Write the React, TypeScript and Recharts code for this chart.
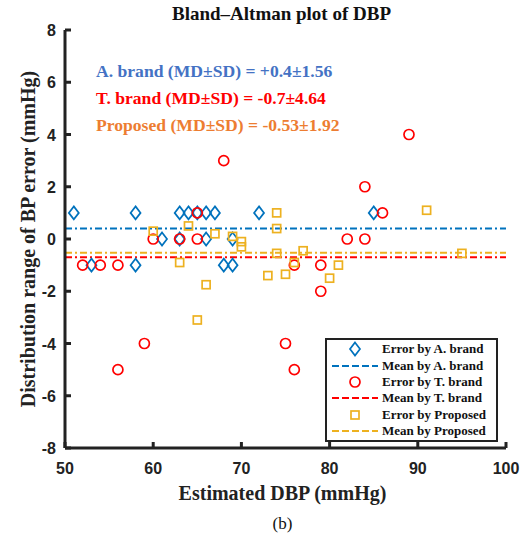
import React from 'react';
import { ScatterChart, Scatter, XAxis, YAxis, ReferenceLine } from 'recharts';

// tick values
const xTicks = [50, 60, 70, 80, 90, 100];
const yTicks = [-8, -6, -4, -2, 0, 2, 4, 6, 8];

// [estimated DBP, error] pairs
const aBrandErrors = [
  [51, 1], [58, 1], [63, 1], [64, 1], [65, 1], [66, 1], [67, 1], [72, 1], [85, 1],
  [61, 0], [63, 0], [66, 0], [69, 0],
  [53, -1], [58, -1], [68, -1], [69, -1],
];
const tBrandErrors = [
  [52, -1], [54, -1], [56, -1], [56, -5], [59, -4], [60, 0], [63, 0], [65, 1], [65, 0],
  [68, 3], [75, -4], [76, -1], [76, -5], [79, -1], [79, -2], [82, 0], [84, 0], [84, 2],
  [86, 1], [89, 4],
];
const proposedErrors = [
  [60, 0.3], [63, -0.9], [64, 0.5], [65, -3.1], [66, -1.75], [67, 0.2], [69, 0.1],
  [70, -0.1], [70, -0.3], [73, -1.4], [74, 1.0], [74, 0.4], [74, -0.55], [75, -1.35],
  [76, -0.9], [77, -0.45], [80, -1.5], [81, -1.0], [91, 1.1], [95, -0.55],
];

const meanValues = [0.4, -0.7, -0.53];
const seriesNames = ['A. brand', 'T. brand', 'Proposed'];
const statLabels = ['+0.4±1.56', '-0.7±4.64', '-0.53±1.92'];

const markerColors = ['#0072BD', '#FF0000', '#EDB120'];
const statColors = ['#4472C4', '#FF0000', '#ED7D31'];
const DASH = '7 3 2 3';
const FRAME = '#222';

const toPoints = (arr: number[][]) => arr.map(([x, y]) => ({ x, y }));

const Diamond = ({ cx, cy }: any) => (
  <path
    d={`M${cx},${cy - 6.5} L${cx + 5},${cy} L${cx},${cy + 6.5} L${cx - 5},${cy} Z`}
    fill="none"
    stroke={markerColors[0]}
    strokeWidth={1.7}
  />
);
const Circle = ({ cx, cy }: any) => (
  <circle cx={cx} cy={cy} r={5} fill="none" stroke={markerColors[1]} strokeWidth={1.7} />
);
const Square = ({ cx, cy }: any) => (
  <rect x={cx - 4} y={cy - 4} width={8} height={8} fill="none" stroke={markerColors[2]} strokeWidth={1.7} />
);

const tickFont = { fontFamily: '"Liberation Sans", Arial, sans-serif', fontWeight: 700, fontSize: 16, fill: '#222' };

const BottomTick = ({ x, y, payload }: any) => (
  <g>
    <line x1={x} x2={x} y1={y} y2={y - 6} stroke={FRAME} strokeWidth={3} />
    <text x={x} y={y + 26} textAnchor="middle" {...tickFont}>{payload.value}</text>
  </g>
);
const TopTick = ({ x, y }: any) => <line x1={x} x2={x} y1={y} y2={y + 6} stroke={FRAME} strokeWidth={3} />;
const LeftTick = ({ x, y, payload }: any) => (
  <g>
    <line x1={x} x2={x + 6} y1={y} y2={y} stroke={FRAME} strokeWidth={3} />
    <text x={x - 9} y={y + 6} textAnchor="end" {...tickFont}>{payload.value}</text>
  </g>
);
const RightTick = ({ x, y }: any) => <line x1={x} x2={x - 6} y1={y} y2={y} stroke={FRAME} strokeWidth={3} />;

const serif = '"Liberation Serif", "Times New Roman", serif';

const legendRows = [
  { kind: 'marker', idx: 0, label: 'Error by A. brand' },
  { kind: 'line', idx: 0, label: 'Mean by A. brand' },
  { kind: 'marker', idx: 1, label: 'Error by T. brand' },
  { kind: 'line', idx: 1, label: 'Mean by T. brand' },
  { kind: 'marker', idx: 2, label: 'Error by Proposed' },
  { kind: 'line', idx: 2, label: 'Mean by Proposed' },
];

function LegendBox() {
  return (
    <div
      style={{
        position: 'absolute', left: 325, top: 338, width: 169, height: 98,
        border: `2px solid ${FRAME}`, background: '#fff', padding: '1px 0',
      }}
    >
      {legendRows.map((r, i) => (
        <div key={i} style={{ display: 'flex', alignItems: 'center', height: 16.4 }}>
          <svg width={55} height={16} style={{ flex: 'none' }}>
            {r.kind === 'line' ? (
              <line x1={5} x2={51} y1={8} y2={8} stroke={markerColors[r.idx]} strokeWidth={2} strokeDasharray="7 3" />
            ) : r.idx === 0 ? (
              <Diamond cx={28} cy={8} />
            ) : r.idx === 1 ? (
              <Circle cx={28} cy={8} />
            ) : (
              <Square cx={28} cy={8} />
            )}
          </svg>
          <span style={{ fontFamily: serif, fontWeight: 700, fontSize: 13, color: '#111', whiteSpace: 'nowrap' }}>
            {r.label}
          </span>
        </div>
      ))}
    </div>
  );
}

export default function App() {
  const series = [toPoints(aBrandErrors), toPoints(tBrandErrors), toPoints(proposedErrors)];
  const shapes = [Diamond, Circle, Square];
  return (
    <div style={{ position: 'absolute', left: 0, top: 0, width: 527, height: 533, background: '#fff' }}>
      <ScatterChart width={527} height={533} margin={{ top: 30, right: 21, bottom: 55, left: 25 }}>
        <XAxis
          xAxisId={0} dataKey="x" type="number" domain={[50, 100]} ticks={xTicks} interval={0}
          height={30} tickSize={0} tickMargin={0} tickLine={false} tick={<BottomTick />}
          axisLine={{ stroke: FRAME, strokeWidth: 3 }} allowDataOverflow
        />
        <XAxis
          xAxisId="top" orientation="top" type="number" domain={[50, 100]} ticks={xTicks} interval={0}
          height={0} tickSize={0} tickMargin={0} tickLine={false} tick={<TopTick />}
          axisLine={{ stroke: FRAME, strokeWidth: 3 }} allowDataOverflow
        />
        <YAxis
          yAxisId={0} dataKey="y" type="number" domain={[-8, 8]} ticks={yTicks} interval={0}
          width={40} tickSize={0} tickMargin={0} tickLine={false} tick={<LeftTick />}
          axisLine={{ stroke: FRAME, strokeWidth: 3 }} allowDataOverflow
        />
        <YAxis
          yAxisId="right" orientation="right" type="number" domain={[-8, 8]} ticks={yTicks} interval={0}
          width={0} tickSize={0} tickMargin={0} tickLine={false} tick={<RightTick />}
          axisLine={{ stroke: FRAME, strokeWidth: 3 }} allowDataOverflow
        />
        {series.map((pts, i) => {
          const Shape = shapes[i];
          return (
            <Scatter
              key={`s${i}`}
              name={`Error by ${seriesNames[i]}`}
              data={pts}
              xAxisId={0}
              yAxisId={0}
              isAnimationActive={false}
              shape={(p: any) => <Shape cx={p.cx} cy={p.cy} />}
            />
          );
        })}
        {meanValues.map((m, i) => (
          <ReferenceLine
            key={`m${i}`}
            y={m}
            xAxisId={0}
            yAxisId={0}
            stroke={markerColors[i]}
            strokeWidth={2}
            strokeDasharray={DASH}
          />
        ))}
      </ScatterChart>

      <div
        style={{
          position: 'absolute', left: 0, width: 563, top: 3, textAlign: 'center',
          fontFamily: serif, fontWeight: 700, fontSize: 19, color: '#111', lineHeight: '22px',
        }}
      >
        Bland–Altman plot of DBP
      </div>

      {seriesNames.map((n, i) => (
        <div
          key={n}
          style={{
            position: 'absolute', left: 96, top: 60 + i * 27, lineHeight: '22px',
            fontFamily: serif, fontWeight: 700, fontSize: 17.6, color: statColors[i], whiteSpace: 'nowrap',
          }}
        >
          {`${n} (MD±SD) = ${statLabels[i]}`}
        </div>
      ))}

      <div
        style={{
          position: 'absolute', left: 28 - 300, top: 239 - 12, width: 600, height: 24, lineHeight: '24px',
          textAlign: 'center', transform: 'rotate(-90deg)',
          fontFamily: serif, fontWeight: 700, fontSize: 20, color: '#222', whiteSpace: 'nowrap',
        }}
      >
        Distribution range of BP error (mmHg)
      </div>

      <div
        style={{
          position: 'absolute', left: 0, width: 565, top: 481, textAlign: 'center', lineHeight: '24px',
          fontFamily: serif, fontWeight: 700, fontSize: 20, color: '#222',
        }}
      >
        Estimated DBP (mmHg)
      </div>
      <div
        style={{
          position: 'absolute', left: 0, width: 565, top: 514, textAlign: 'center', lineHeight: '20px',
          fontFamily: serif, fontSize: 17, color: '#111',
        }}
      >
        (b)
      </div>

      <LegendBox />
    </div>
  );
}
